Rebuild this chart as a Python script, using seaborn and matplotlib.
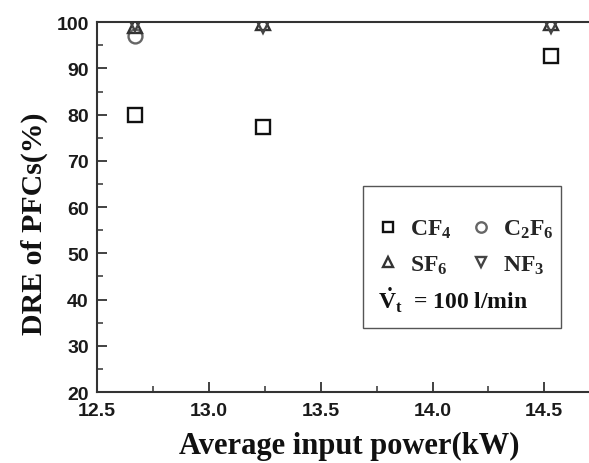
import matplotlib
matplotlib.use("Agg")
import matplotlib.pyplot as plt
from matplotlib.patches import Rectangle
from matplotlib.ticker import MultipleLocator
import numpy as np
import seaborn as sns
import pandas as pd

# Destruction and removal efficiency of PFC gases vs. plasma input power
power_kw = [12.67, 13.24, 14.53]
dre_cf4 = [80.0, 77.4, 92.7]
dre_c2f6 = [97.0, np.nan, np.nan]
dre_sf6 = [99.1, 99.8, 99.8]
dre_nf3 = [99.6, 99.1, 99.1]

series_names = ["CF$_4$", "C$_2$F$_6$", "SF$_6$", "NF$_3$"]
series_values = [dre_cf4, dre_c2f6, dre_sf6, dre_nf3]
series_markers = ["s", "o", "^", "v"]
series_colors = ["#111111", "#666666", "#333333", "#444444"]

x_ticks = [12.5, 13.0, 13.5, 14.0, 14.5]
y_ticks = [20, 30, 40, 50, 60, 70, 80, 90, 100]

sns.set_theme(style="white")
plt.rcParams["font.family"] = ["Liberation Serif", "DejaVu Serif"]
plt.rcParams["mathtext.fontset"] = "custom"
plt.rcParams["mathtext.rm"] = "Liberation Serif:bold"
plt.rcParams["mathtext.it"] = "Liberation Serif:bold"
plt.rcParams["mathtext.bf"] = "Liberation Serif:bold"

fig = plt.figure(figsize=(5.89, 4.64), dpi=100)
ax = fig.add_axes([0.165, 0.153, 0.835, 0.797])

frames = []
for name, vals in zip(series_names, series_values):
    frames.append(pd.DataFrame({"power": power_kw, "dre": vals, "gas": name}))
df = pd.concat(frames, ignore_index=True)

handles = {}
for name, mk, col in zip(series_names, series_markers, series_colors):
    sub = df[df["gas"] == name].dropna()
    sns.lineplot(data=sub, x="power", y="dre", ax=ax, linestyle="", marker=mk,
                 markersize=10, markerfacecolor="none", markeredgecolor=col,
                 markeredgewidth=1.7, color=col, label=name, legend=False)
    handles[name] = ax.lines[-1]

ax.set_xlim(12.5, 14.7)
ax.set_ylim(20, 100)
ax.xaxis.set_minor_locator(MultipleLocator(0.25))
ax.yaxis.set_minor_locator(MultipleLocator(5))
ax.set_xticks(x_ticks)
ax.set_yticks(y_ticks)
ax.set_xticklabels([f"{v:.1f}" for v in x_ticks])
ax.set_yticklabels([str(v) for v in y_ticks])

for lab in ax.get_xticklabels() + ax.get_yticklabels():
    lab.set_fontfamily("Liberation Sans")
    lab.set_fontweight("bold")
    lab.set_fontsize(14)
    lab.set_color("#1a1a1a")

ax.tick_params(axis="both", which="both", direction="in", colors="#333333",
               top=False, right=False, bottom=True, left=True)
ax.tick_params(axis="both", which="major", length=7, width=1.3)
ax.tick_params(axis="both", which="minor", length=4, width=1.1)
ax.tick_params(axis="x", which="major", pad=7, labelcolor="#1a1a1a")
ax.tick_params(axis="y", which="major", pad=6, labelcolor="#1a1a1a")

for side, sp in ax.spines.items():
    sp.set_color("#333333")
    sp.set_linewidth(1.5)
ax.spines["right"].set_visible(False)

ax.set_xlabel("Average input power(kW)", fontsize=22, fontweight="bold",
              color="#111111")
ax.set_ylabel("DRE of PFCs(%)", fontsize=21.5, fontweight="bold",
              color="#111111")
ax.xaxis.set_label_coords(0.512, -0.104)
ax.yaxis.set_label_coords(-0.10, 0.459)

# Legend box with the flow-rate note
ax.add_patch(Rectangle((0.541, 0.173), 0.402, 0.384, transform=ax.transAxes,
                       fill=False, edgecolor="#555555", linewidth=1.0, zorder=3))
order = ["CF$_4$", "SF$_6$", "C$_2$F$_6$", "NF$_3$"]
leg = ax.legend(handles=[handles[n] for n in order], labels=order, ncol=2,
                frameon=False, loc="upper left", bbox_to_anchor=(0.567, 0.471),
                prop={"family": "Liberation Serif", "weight": "bold", "size": 17},
                handlelength=1.0, handletextpad=0.42, columnspacing=0.76,
                labelspacing=0.57, markerscale=0.75, borderaxespad=0.0,
                borderpad=0.0)
ax.text(0.571, 0.251, r"$\dot{V}_t$  = 100 l/min", transform=ax.transAxes,
        fontsize=17, fontweight="bold", va="center", ha="left", color="#111111")

fig.savefig("out.png", dpi=100)
